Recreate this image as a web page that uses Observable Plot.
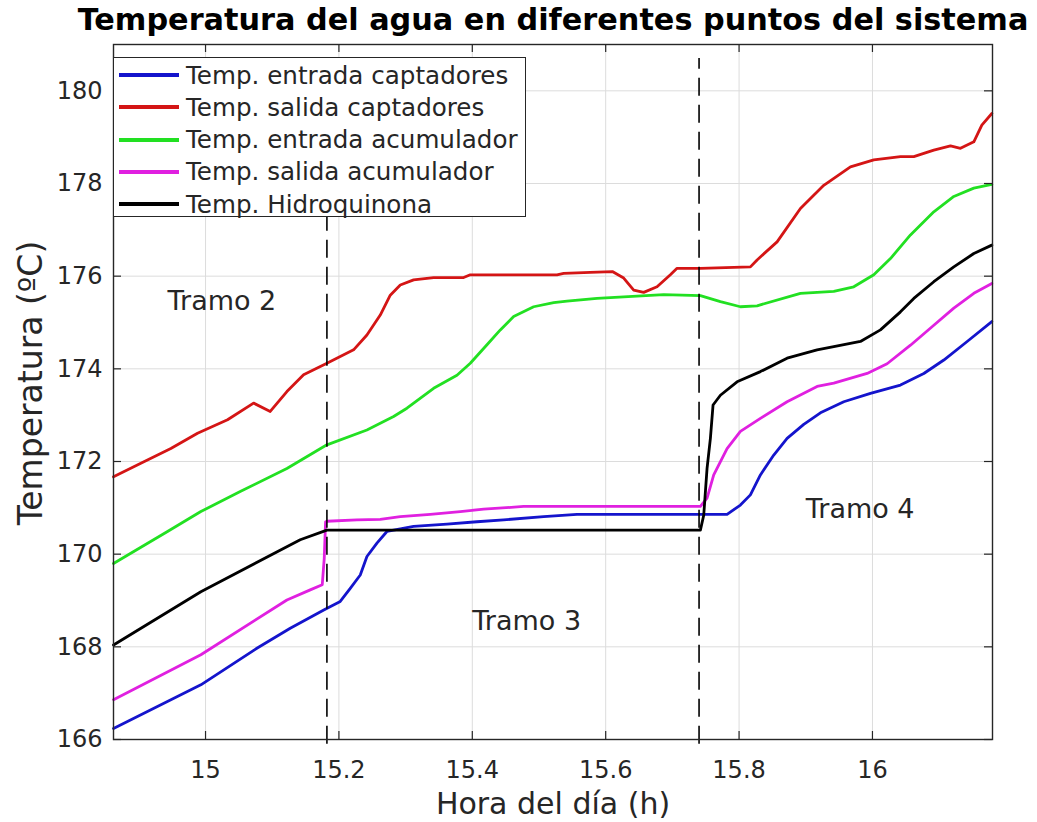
<!DOCTYPE html>
<html><head><meta charset="utf-8">
<script src="https://cdn.jsdelivr.net/npm/d3@7"></script>
<script src="https://cdn.jsdelivr.net/npm/@observablehq/plot@0.6"></script>
<style>
body{margin:0;background:#fff;font-family:"DejaVu Sans",sans-serif;}
#wrap{position:relative;width:1037px;height:822px;}
#legend{position:absolute;left:113px;top:57px;width:411px;height:158px;background:#fff;border:1.5px solid #262626;}
.row{position:absolute;left:0;height:32px;display:flex;align-items:center;}
.sw{width:60px;height:4px;margin-left:5px;margin-right:7px;}
.lab{font-size:24.6px;color:#262626;white-space:nowrap;font-family:"DejaVu Sans",sans-serif;}
</style></head><body><div id="wrap"></div>
<script>
// ---- data ----
const seriesNames = ["Temp. entrada captadores","Temp. salida captadores","Temp. entrada acumulador","Temp. salida acumulador","Temp. Hidroquinona"];
const seriesColors = ["#1414cc","#d41515","#22e022","#e020e0","#000000"];

const blueX = [14.862,14.993,15.077,15.127,15.178,15.202,15.217,15.232,15.242,15.257,15.272,15.282,15.312,15.362,15.407,15.447,15.507,15.557,15.682,15.782,15.802,15.817,15.832,15.852,15.872,15.897,15.922,15.957,15.997,16.042,16.077,16.107,16.142,16.179];
const blueY = [166.24,167.18,167.97,168.40,168.80,168.98,169.26,169.55,169.95,170.24,170.49,170.52,170.60,170.65,170.70,170.74,170.81,170.86,170.86,170.86,171.06,171.28,171.71,172.14,172.50,172.80,173.05,173.29,173.47,173.65,173.90,174.19,174.59,175.02];

const redX = [14.862,14.903,14.948,14.988,15.033,15.072,15.097,15.122,15.147,15.182,15.222,15.242,15.262,15.277,15.292,15.312,15.342,15.387,15.397,15.527,15.537,15.577,15.610,15.627,15.642,15.657,15.677,15.697,15.707,15.742,15.817,15.827,15.857,15.892,15.927,15.967,16.002,16.042,16.062,16.092,16.117,16.132,16.152,16.164,16.179];
const redY = [171.67,171.96,172.28,172.61,172.90,173.26,173.08,173.51,173.87,174.12,174.41,174.73,175.16,175.59,175.81,175.92,175.97,175.97,176.03,176.03,176.06,176.08,176.10,175.96,175.70,175.65,175.77,176.03,176.17,176.17,176.20,176.35,176.74,177.46,177.96,178.36,178.51,178.58,178.58,178.72,178.81,178.76,178.90,179.26,179.51];

const greenX = [14.862,14.943,14.993,15.052,15.122,15.182,15.242,15.282,15.302,15.342,15.377,15.397,15.422,15.442,15.462,15.492,15.522,15.542,15.587,15.687,15.742,15.772,15.802,15.827,15.892,15.942,15.972,16.002,16.027,16.057,16.092,16.122,16.152,16.179];
const greenY = [169.80,170.49,170.92,171.35,171.85,172.36,172.68,172.97,173.15,173.58,173.86,174.12,174.52,174.84,175.13,175.34,175.43,175.46,175.52,175.60,175.58,175.45,175.34,175.36,175.63,175.67,175.77,176.03,176.38,176.89,177.39,177.72,177.90,177.98];

const magentaX = [14.862,14.993,15.122,15.157,15.175,15.178,15.180,15.182,15.227,15.262,15.292,15.337,15.382,15.417,15.477,15.742,15.752,15.762,15.782,15.802,15.832,15.872,15.917,15.942,15.992,16.022,16.057,16.092,16.122,16.152,16.179];
const magentaY = [166.86,167.83,169.01,169.23,169.34,169.91,170.70,170.71,170.74,170.75,170.81,170.86,170.92,170.97,171.03,171.03,171.21,171.71,172.28,172.65,172.93,173.29,173.62,173.69,173.90,174.11,174.51,174.94,175.31,175.63,175.84];

const blackX = [14.862,14.993,15.142,15.182,15.742,15.747,15.752,15.757,15.761,15.772,15.797,15.832,15.872,15.917,15.942,15.982,16.012,16.042,16.062,16.092,16.122,16.152,16.179];
const blackY = [168.04,169.19,170.31,170.52,170.52,170.84,171.85,172.50,173.22,173.43,173.72,173.94,174.23,174.41,174.48,174.59,174.84,175.23,175.52,175.88,176.20,176.49,176.67];

const xTicks = [15, 15.2, 15.4, 15.6, 15.8, 16];
const yTicks = [166, 168, 170, 172, 174, 176, 178, 180];
const dividers = [15.182, 15.740];
const tramoLabels = ["Tramo 2", "Tramo 3", "Tramo 4"];
const tramoX = [14.943, 15.400, 15.900];
const tramoY = [175.45, 168.55, 170.96];

const titleText = "Temperatura del agua en diferentes puntos del sistema";
const xLabel = "Hora del día (h)";
const yLabel = "Temperatura (ºC)";

// ---- build ----
const allX = [blueX, redX, greenX, magentaX, blackX];
const allY = [blueY, redY, greenY, magentaY, blackY];
const lineMarks = allX.map((xs, i) => Plot.line(xs.map((x, j) => ({x, y: allY[i][j]})), {
  x: "x", y: "y", stroke: seriesColors[i], strokeWidth: 2.8, strokeLinejoin: "round"
}));
const tramos = tramoLabels.map((t, i) => ({t, x: tramoX[i], y: tramoY[i]}));

const W = 1037, H = 822, mL = 113, mR = 45, mT = 44, mB = 83;
const fw = W - mL - mR, fh = H - mT - mB, tk = 8;

const chart = Plot.plot({
  width: W, height: H,
  marginLeft: mL, marginRight: mR, marginTop: mT, marginBottom: mB,
  style: {fontFamily: "DejaVu Sans", background: "#fff", color: "#262626", overflow: "visible"},
  x: {domain: [14.862, 16.18]},
  y: {domain: [166, 181]},
  marks: [
    Plot.gridX(xTicks, {stroke: "#dcdcdc", strokeOpacity: 1, strokeWidth: 1}),
    Plot.gridY(yTicks, {stroke: "#dcdcdc", strokeOpacity: 1, strokeWidth: 1}),
    ...lineMarks,
    Plot.ruleX(dividers, {y1: 165.9, y2: 180.7, stroke: "#000", strokeWidth: 1.6, strokeDasharray: "18,9"}),
    Plot.text(tramos, {x: "x", y: "y", text: "t", textAnchor: "start", fontSize: 27, fill: "#262626"}),
    Plot.ruleX(xTicks, {insetTop: fh - tk, stroke: "#262626", strokeWidth: 1.2}),
    Plot.ruleX(xTicks, {insetBottom: fh - tk, stroke: "#262626", strokeWidth: 1.2}),
    Plot.ruleY(yTicks, {insetRight: fw - tk, stroke: "#262626", strokeWidth: 1.2}),
    Plot.ruleY(yTicks, {insetLeft: fw - tk, stroke: "#262626", strokeWidth: 1.2}),
    Plot.frame({stroke: "#262626", strokeWidth: 1.4}),
    Plot.axisX(xTicks, {tickSize: 0, tickPadding: 21, fontSize: 24, label: null, tickFormat: d => String(d)}),
    Plot.axisY(yTicks, {tickSize: 0, tickPadding: 11, fontSize: 24, label: null, tickFormat: d => String(d)}),
    Plot.text([titleText], {text: d => d, frameAnchor: "top", lineAnchor: "middle", dy: -24, fontSize: 30.3, fontWeight: "bold", fill: "#000"}),
    Plot.text([xLabel], {text: d => d, frameAnchor: "bottom", lineAnchor: "middle", dy: 65, fontSize: 30, fill: "#262626"}),
    Plot.text([yLabel], {text: d => d, frameAnchor: "left", textAnchor: "middle", lineAnchor: "middle", dx: -82, dy: -9, rotate: -90, fontSize: 33, fill: "#262626"})
  ]
});

const wrap = document.getElementById("wrap");
wrap.appendChild(chart);

const legend = document.createElement("div");
legend.id = "legend";
seriesNames.forEach((n, i) => {
  const row = document.createElement("div");
  row.className = "row";
  row.style.top = (1 + i * 32.3) + "px";
  const sw = document.createElement("div");
  sw.className = "sw";
  sw.style.background = seriesColors[i];
  const lab = document.createElement("span");
  lab.className = "lab";
  lab.textContent = n;
  row.appendChild(sw); row.appendChild(lab);
  legend.appendChild(row);
});
wrap.appendChild(legend);
</script>
</body></html>
